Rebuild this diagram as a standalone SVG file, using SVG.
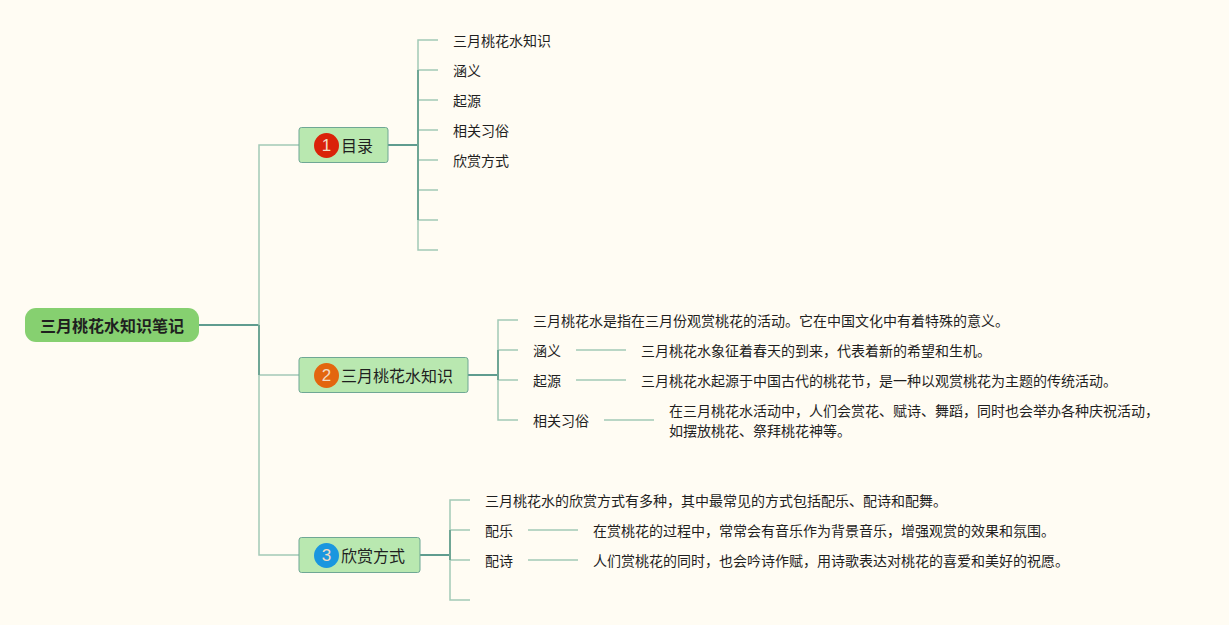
<svg xmlns="http://www.w3.org/2000/svg" width="1229" height="625" viewBox="0 0 1229 625">
<style>
text{font-family:"Liberation Sans","Noto Sans CJK SC",sans-serif;fill:#1f1f1f;dominant-baseline:central}
.s{font-size:14px}
.m{font-size:16px}
.n{fill:#b9e8b0;stroke:#6fa795;stroke-width:1}
.l{fill:none;stroke:#a3c9b7;stroke-width:1.500}
.d{fill:none;stroke:#6fa695;stroke-width:2}
.t{fill:none;stroke:#5f9c8f;stroke-width:2}
.b{font-size:17px;fill:#f3dcc4;text-anchor:middle}
</style>
<rect width="1229" height="625" fill="#fffcf3"/>
<g id="connectors">
<path class="t" d="M199 325H259"/>
<path class="l" d="M299 145H259V555H299"/>
<path class="l" d="M259 375H299"/>
<path class="d" d="M259 325V375"/>
<path class="t" d="M388 145H418"/>
<path class="l" d="M438 40H418V250H438M418 70H438M418 100H438M418 130H438M418 160H438M418 190H438M418 220H438"/>
<path class="d" d="M418 70V220"/>
<path class="t" d="M468 375H498"/>
<path class="l" d="M518 320H498V420H518M498 350H518M498 380H518"/>
<path class="d" d="M498 350V380"/>
<path class="l" d="M576 350H626M576 380H626M604 420H654"/>
<path class="t" d="M420 555H450"/>
<path class="l" d="M470 500H450V600H470M450 530H470M450 560H470"/>
<path class="d" d="M450 530V560"/>
<path class="l" d="M528 530H578M528 560H578"/>
</g>
<g id="root">
<rect x="25" y="308" width="174" height="34" rx="11" fill="#86d070"/>
<text x="40" y="326" font-weight="bold" style="font-size:16px">三月桃花水知识笔记</text>
</g>
<g id="node-1">
<rect class="n" x="299" y="127.500" width="89" height="35" rx="2.500"/>
<circle cx="326.500" cy="145.500" r="12.500" fill="#da2209"/>
<text class="b" x="326.500" y="145.500">1</text>
<text class="m" x="341" y="146">目录</text>
</g>
<g id="node-2">
<rect class="n" x="299" y="357.500" width="169" height="35" rx="2.500"/>
<circle cx="326.500" cy="375.500" r="12.500" fill="#e3660f"/>
<text class="b" x="326.500" y="375.500">2</text>
<text class="m" x="341" y="376">三月桃花水知识</text>
</g>
<g id="node-3">
<rect class="n" x="299" y="537.500" width="121" height="35" rx="2.500"/>
<circle cx="326.500" cy="555.500" r="12.500" fill="#1a96df"/>
<text class="b" x="326.500" y="555.500">3</text>
<text class="m" x="341" y="556">欣赏方式</text>
</g>
<g id="toc">
<text class="s" x="453" y="41">三月桃花水知识</text>
<text class="s" x="453" y="71">涵义</text>
<text class="s" x="453" y="101">起源</text>
<text class="s" x="453" y="131">相关习俗</text>
<text class="s" x="453" y="161">欣赏方式</text>
</g>
<g id="knowledge">
<text class="s" x="533" y="321">三月桃花水是指在三月份观赏桃花的活动。它在中国文化中有着特殊的意义。</text>
<text class="s" x="533" y="351">涵义</text>
<text class="s" x="641" y="351">三月桃花水象征着春天的到来，代表着新的希望和生机。</text>
<text class="s" x="533" y="381">起源</text>
<text class="s" x="641" y="381">三月桃花水起源于中国古代的桃花节，是一种以观赏桃花为主题的传统活动。</text>
<text class="s" x="533" y="421">相关习俗</text>
<text class="s" x="669" y="411">在三月桃花水活动中，人们会赏花、赋诗、舞蹈，同时也会举办各种庆祝活动，</text>
<text class="s" x="669" y="431">如摆放桃花、祭拜桃花神等。</text>
</g>
<g id="appreciation">
<text class="s" x="485" y="501">三月桃花水的欣赏方式有多种，其中最常见的方式包括配乐、配诗和配舞。</text>
<text class="s" x="485" y="531">配乐</text>
<text class="s" x="593" y="531">在赏桃花的过程中，常常会有音乐作为背景音乐，增强观赏的效果和氛围。</text>
<text class="s" x="485" y="561">配诗</text>
<text class="s" x="593" y="561">人们赏桃花的同时，也会吟诗作赋，用诗歌表达对桃花的喜爱和美好的祝愿。</text>
</g>
</svg>
